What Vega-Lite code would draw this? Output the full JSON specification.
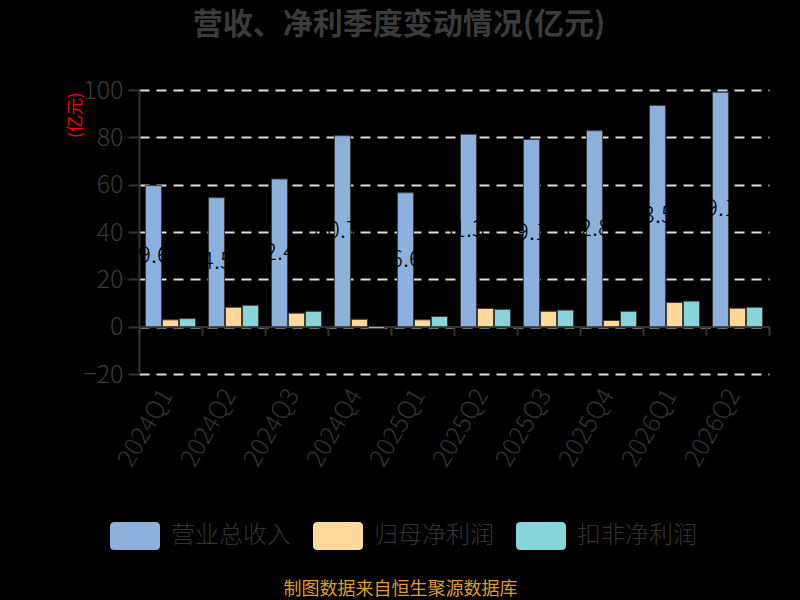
{
  "$schema": "https://vega.github.io/schema/vega-lite/v6.json",
  "width": 630,
  "height": 284,
  "autosize": {"type": "none"},
  "padding": {"left": 139, "top": 90, "right": 31, "bottom": 226},
  "background": "#000000",
  "title": {
    "text": "营收、净利季度变动情况(亿元)",
    "color": "#3b3b3b",
    "fontSize": 30,
    "fontWeight": "bold",
    "font": "Noto Sans CJK SC",
    "anchor": "middle",
    "dx": -55,
    "offset": 38
  },
  "config": {"view": {"stroke": null}, "font": "Noto Sans CJK SC"},
  "data": {
    "values": [
      {"q": "2024Q1", "s": "营业总收入", "v": 59.6},
      {"q": "2024Q1", "s": "归母净利润", "v": 2.9},
      {"q": "2024Q1", "s": "扣非净利润", "v": 3.4},
      {"q": "2024Q2", "s": "营业总收入", "v": 54.5},
      {"q": "2024Q2", "s": "归母净利润", "v": 8.2},
      {"q": "2024Q2", "s": "扣非净利润", "v": 9.0},
      {"q": "2024Q3", "s": "营业总收入", "v": 62.4},
      {"q": "2024Q3", "s": "归母净利润", "v": 5.7},
      {"q": "2024Q3", "s": "扣非净利润", "v": 6.5},
      {"q": "2024Q4", "s": "营业总收入", "v": 80.7},
      {"q": "2024Q4", "s": "归母净利润", "v": 3.1},
      {"q": "2024Q4", "s": "扣非净利润", "v": -0.8},
      {"q": "2025Q1", "s": "营业总收入", "v": 56.6},
      {"q": "2025Q1", "s": "归母净利润", "v": 2.9},
      {"q": "2025Q1", "s": "扣非净利润", "v": 4.3},
      {"q": "2025Q2", "s": "营业总收入", "v": 81.3},
      {"q": "2025Q2", "s": "归母净利润", "v": 7.7},
      {"q": "2025Q2", "s": "扣非净利润", "v": 7.3},
      {"q": "2025Q3", "s": "营业总收入", "v": 79.1},
      {"q": "2025Q3", "s": "归母净利润", "v": 6.5},
      {"q": "2025Q3", "s": "扣非净利润", "v": 7.0},
      {"q": "2025Q4", "s": "营业总收入", "v": 82.8},
      {"q": "2025Q4", "s": "归母净利润", "v": 2.6},
      {"q": "2025Q4", "s": "扣非净利润", "v": 6.5},
      {"q": "2026Q1", "s": "营业总收入", "v": 93.5},
      {"q": "2026Q1", "s": "归母净利润", "v": 10.2},
      {"q": "2026Q1", "s": "扣非净利润", "v": 10.8},
      {"q": "2026Q2", "s": "营业总收入", "v": 99.1},
      {"q": "2026Q2", "s": "归母净利润", "v": 7.8},
      {"q": "2026Q2", "s": "扣非净利润", "v": 8.2}
    ]
  },
  "layer": [
    {
      "mark": {"type": "bar", "stroke": "#3d3d3d", "strokeWidth": 1},
      "encoding": {
        "x": {
          "field": "q",
          "type": "nominal",
          "sort": null,
          "scale": {"paddingInner": 0, "paddingOuter": 0},
          "axis": {
            "title": "制图数据来自恒生聚源数据库",
            "titleColor": "#dc9e2a",
            "titleFontSize": 18,
            "titleFontWeight": "normal",
            "titleX": 261,
            "titleY": 272,
            "titleAlign": "center",
            "titleBaseline": "bottom",
            "offset": -47.6,
            "domainColor": "#333333",
            "domainWidth": 2,
            "tickColor": "#333333",
            "tickWidth": 2,
            "tickSize": 9,
            "tickBand": "extent",
            "labelAngle": -60,
            "labelAlign": "right",
            "labelBaseline": "middle",
            "labelColor": "#333333",
            "labelFontSize": 25,
            "labelFontWeight": 300,
            "labelPadding": 55,
            "labelOffset": -4,
            "labelOverlap": false,
            "grid": false
          }
        },
        "xOffset": {
          "field": "s",
          "type": "nominal",
          "scale": {
            "domain": ["营业总收入", "归母净利润", "扣非净利润"],
            "paddingInner": 0.06,
            "paddingOuter": 0.38
          }
        },
        "y": {
          "field": "v",
          "type": "quantitative",
          "scale": {"domain": [-20, 100], "nice": false, "zero": false},
          "axis": {
            "title": "(亿元)",
            "titleColor": "#ff0000",
            "titleFontSize": 17,
            "titleFontWeight": "normal",
            "titleX": -64,
            "titleY": 2,
            "titleAlign": "right",
            "titleBaseline": "middle",
            "values": [-20, 0, 20, 40, 60, 80, 100],
            "labelColor": "#3a3a3a",
            "labelFontSize": 25,
            "labelFontWeight": 300,
            "labelPadding": 5,
            "tickSize": 11,
            "tickColor": "#333333",
            "tickWidth": 2,
            "domainColor": "#333333",
            "domainWidth": 2,
            "gridColor": "#dddddd",
            "gridDash": [10, 7],
            "gridWidth": 2
          }
        },
        "color": {
          "field": "s",
          "type": "nominal",
          "scale": {
            "domain": ["营业总收入", "归母净利润", "扣非净利润"],
            "range": ["#8eb0dd", "#ffd99b", "#88d5d9"]
          },
          "legend": {
            "orient": "none",
            "legendX": -29,
            "legendY": 421,
            "direction": "horizontal",
            "title": null,
            "symbolType": "M-0.82,-0.56 L0.82,-0.56 Q1,-0.56 1,-0.38 L1,0.38 Q1,0.56 0.82,0.56 L-0.82,0.56 Q-1,0.56 -1,0.38 L-1,-0.38 Q-1,-0.56 -0.82,-0.56 Z",
            "symbolSize": 2500,
            "symbolStrokeWidth": 0,
            "symbolOpacity": 1,
            "labelFontSize": 24,
            "labelFontWeight": 300,
            "labelColor": "#333333",
            "labelOffset": 11,
            "columnPadding": 22
          }
        }
      }
    },
    {
      "transform": [{"filter": "datum.s === '营业总收入'"}],
      "mark": {"type": "text", "color": "#000000", "fontSize": 24, "fontWeight": 300, "dx": -6},
      "encoding": {
        "x": {"field": "q", "type": "nominal", "sort": null},
        "xOffset": {
          "field": "s",
          "type": "nominal",
          "scale": {"domain": ["营业总收入", "归母净利润", "扣非净利润"]}
        },
        "y": {
          "field": "v",
          "type": "quantitative",
          "scale": {"domain": [-40, 200], "nice": false, "zero": false},
          "axis": null
        },
        "text": {"field": "v", "type": "quantitative", "format": ".1f"}
      }
    }
  ],
  "resolve": {"scale": {"y": "independent"}}
}
